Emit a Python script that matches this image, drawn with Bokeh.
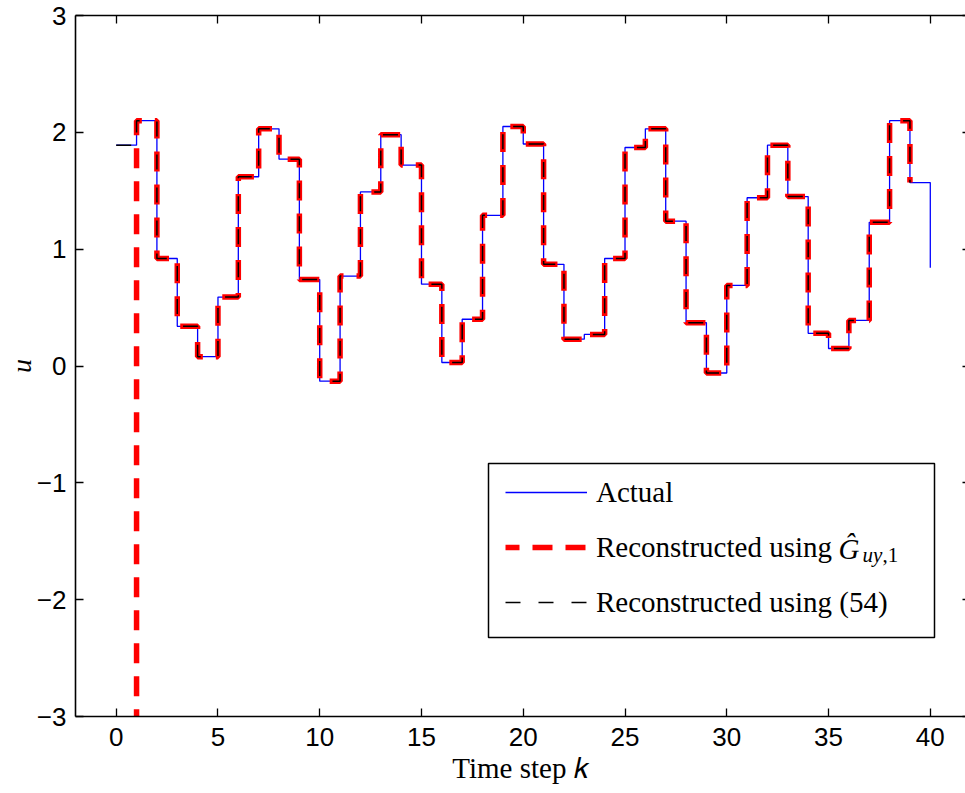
from bokeh.plotting import figure
from bokeh.models import (Range1d, LinearAxis, FixedTicker, Legend, LegendItem,
                          BoxAnnotation, Label)
from bokeh.embed import file_html
from bokeh.resources import INLINE

# ---------------- data ----------------
k_actual = list(range(0, 41))
u_actual = [1.89, 2.10, 0.92, 0.34, 0.08, 0.59, 1.62, 2.03, 1.77, 0.74,
            -0.13, 0.77, 1.49, 1.98, 1.72, 0.70, 0.03, 0.40, 1.29, 2.05,
            1.90, 0.87, 0.23, 0.27, 0.92, 1.87, 2.03, 1.24, 0.37, -0.06,
            0.69, 1.44, 1.89, 1.45, 0.28, 0.15, 0.39, 1.23, 2.10, 1.57,
            0.84]
k_recon = list(range(0, 40))
u_recon_g = [-30.0, 2.10, 0.92, 0.34, 0.08, 0.59, 1.62, 2.03, 1.77, 0.74,
             -0.13, 0.77, 1.49, 1.98, 1.72, 0.70, 0.03, 0.40, 1.29, 2.05,
             1.90, 0.87, 0.23, 0.27, 0.92, 1.87, 2.03, 1.24, 0.37, -0.06,
             0.69, 1.44, 1.89, 1.45, 0.28, 0.15, 0.39, 1.23, 2.10, 1.57]
u_recon_54 = [1.89, 2.10, 0.92, 0.34, 0.08, 0.59, 1.62, 2.03, 1.77, 0.74,
              -0.13, 0.77, 1.49, 1.98, 1.72, 0.70, 0.03, 0.40, 1.29, 2.05,
              1.90, 0.87, 0.23, 0.27, 0.92, 1.87, 2.03, 1.24, 0.37, -0.06,
              0.69, 1.44, 1.89, 1.45, 0.28, 0.15, 0.39, 1.23, 2.10, 1.57]
x_ticks = [0, 5, 10, 15, 20, 25, 30, 35, 40]
y_ticks = [-3, -2, -1, 0, 1, 2, 3]
legend_labels = ["Actual", "Reconstructed using", "Reconstructed using (54)"]
x_title = "Time step \U0001D458"
y_title = "u"

SERIF = "Liberation Serif"
SANS = "Liberation Sans"

W, H = 965, 793
B_LEFT, B_RIGHT, B_TOP, B_BOTTOM = 75, 0, 15, 77
Y0, Y1 = -3, 3

p = figure(width=W, height=H, output_backend="svg", toolbar_location=None,
           x_range=Range1d(-2, 41.73), y_range=Range1d(Y0, Y1),
           x_axis_location=None, y_axis_location=None,
           min_border_left=B_LEFT, min_border_right=B_RIGHT,
           min_border_top=B_TOP, min_border_bottom=B_BOTTOM)
p.outline_line_color = None
p.xgrid.visible = False
p.ygrid.visible = False
p.background_fill_color = "white"
p.border_fill_color = "white"


def style_axis(ax, ticks, show_labels, tick_in, line=True, standoff=10):
    ax.ticker = FixedTicker(ticks=ticks)
    ax.minor_tick_line_color = None
    ax.major_tick_out = 0
    ax.major_tick_in = tick_in
    ax.major_tick_line_width = 1.3
    ax.major_tick_line_color = "black"
    ax.axis_line_width = 1.6 if line else 0
    ax.axis_line_color = "black" if line else None
    if show_labels:
        ax.major_label_text_font = SANS
        ax.major_label_text_font_size = "26px"
        ax.major_label_text_color = "black"
        ax.major_label_standoff = standoff
        ax.major_label_overrides = {t: str(t).replace("-", "\u2212") for t in ticks}
    else:
        ax.major_label_text_font_size = "1px"
        ax.major_label_text_color = None
        ax.major_label_standoff = 0


bottom = LinearAxis()
style_axis(bottom, x_ticks, True, 8, standoff=11)
bottom.axis_label = x_title
bottom.axis_label_text_font = SERIF
bottom.axis_label_text_font_style = "normal"
bottom.axis_label_text_font_size = "29px"
bottom.axis_label_text_color = "black"
bottom.axis_label_standoff = 3

left = LinearAxis()
style_axis(left, y_ticks, True, 8, standoff=9)
left.axis_label = y_title
left.axis_label_text_font = SERIF
left.axis_label_text_font_style = "italic"
left.axis_label_text_font_size = "28px"
left.axis_label_text_color = "black"
left.axis_label_standoff = -3

top = LinearAxis()
style_axis(top, x_ticks, False, 8)
right = LinearAxis()
style_axis(right, y_ticks, False, 3, line=False)
p.add_layout(bottom, "below")
p.add_layout(left, "left")
p.add_layout(top, "above")
p.add_layout(right, "right")

# dash phase so that the thin black dashes sit inside the thick red dashes
frame_h = H - B_TOP - B_BOTTOM
ppu_y = frame_h / (Y1 - Y0)
path_diff = (u_recon_54[0] - u_recon_g[0]) * ppu_y
red_offset = int(round((2.5 - path_diff) % 33))

r_act = p.step(k_actual, u_actual, mode="after", line_color="#0000ff",
               line_width=1.3)
r_g = p.step(k_recon, u_recon_g, mode="after", line_color="#ff0000",
             line_width=5.5, line_dash="20 13", line_dash_offset=red_offset)
r_54 = p.step(k_recon, u_recon_54, mode="after", line_color="black",
              line_width=1.5, line_dash="15 18", line_dash_offset=0)

fb = H - B_BOTTOM  # frame bottom in canvas pixels
box = BoxAnnotation(left=488 - B_LEFT, right=934 - B_LEFT,
                    bottom=fb - 637, top=fb - 463,
                    left_units="screen", right_units="screen",
                    top_units="screen", bottom_units="screen",
                    fill_color="white", fill_alpha=1.0,
                    line_color="black", line_width=1.5, line_alpha=1.0)
p.add_layout(box)

legend = Legend(items=[LegendItem(label=legend_labels[0], renderers=[r_act]),
                       LegendItem(label=legend_labels[1], renderers=[r_g]),
                       LegendItem(label=legend_labels[2], renderers=[r_54])],
                location=(505 - B_LEFT, fb - 620), padding=0, margin=0,
                spacing=19, glyph_width=82, glyph_height=36, label_height=36,
                label_standoff=9, border_line_color=None,
                background_fill_alpha=0.0,
                label_text_font=SERIF, label_text_font_size="29px",
                label_text_color="black")
p.add_layout(legend)

# math part of the second legend entry: G-hat with subscript uy,1
p.add_layout(Label(x=838 - B_LEFT, y=fb - 548, x_units="screen", y_units="screen",
                   text="\u011c", text_font=SERIF, text_font_style="italic",
                   text_font_size="29px", text_baseline="alphabetic",
                   text_align="left", text_color="black"))
p.add_layout(Label(x=862 - B_LEFT, y=fb - 554, x_units="screen", y_units="screen",
                   text="uy", text_font=SERIF, text_font_style="italic",
                   text_font_size="21px", text_baseline="alphabetic",
                   text_align="left", text_color="black"))
p.add_layout(Label(x=882 - B_LEFT, y=fb - 554, x_units="screen", y_units="screen",
                   text=",1", text_font=SERIF,
                   text_font_size="21px", text_baseline="alphabetic",
                   text_align="left", text_color="black"))

open("out.html", "w").write(file_html(p, INLINE))
